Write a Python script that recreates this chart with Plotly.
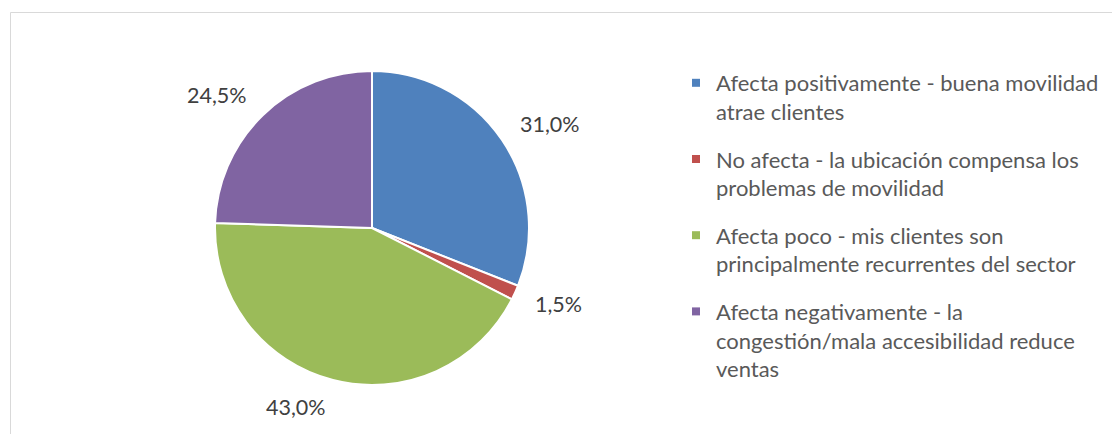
import numpy as np
import plotly.graph_objects as go

categories = [
    "Afecta positivamente - buena movilidad<br>atrae clientes",
    "No afecta - la ubicación compensa los<br>problemas de movilidad",
    "Afecta poco - mis clientes son<br>principalmente recurrentes del sector",
    "Afecta negativamente - la<br>congestión/mala accesibilidad reduce<br>ventas",
]
values = [31.0, 1.5, 43.0, 24.5]
label_texts = ["31,0%", "1,5%", "43,0%", "24,5%"]
colors = ["#4F81BD", "#C0504D", "#9BBB59", "#8064A2"]

W, H = 1112, 434
cx, cy, R = 372, 228, 157
FONT = "Lato, Open Sans, sans-serif"

fig = go.Figure()
fig.add_trace(go.Pie(
    labels=categories,
    values=values,
    sort=False,
    direction="clockwise",
    rotation=0,
    marker=dict(colors=colors, line=dict(color="white", width=2)),
    textinfo="none",
    hoverinfo="label+percent",
    showlegend=False,
    domain=dict(x=[(cx - R) / W, (cx + R) / W], y=[1 - (cy + R) / H, 1 - (cy - R) / H]),
))

# legend entries (one per category, so groups can be spaced like the original)
for i, (cat, col) in enumerate(zip(categories, colors)):
    fig.add_trace(go.Scatter(
        x=[None], y=[None], mode="markers", name=cat,
        marker=dict(symbol="square", size=8, color=col),
        legendgroup=f"g{i}", showlegend=True, hoverinfo="skip",
    ))

# data labels placed just outside the slice mid-angles
vals = np.array(values)
cum = np.cumsum(vals) - vals / 2
ang = cum / vals.sum() * 2 * np.pi
dist = R + 20
annotations = []
for a, t in zip(ang, label_texts):
    s, c = np.sin(a), np.cos(a)
    px = cx + dist * s
    py = cy - dist * c
    annotations.append(dict(
        x=px / W, y=1 - py / H, xref="paper", yref="paper",
        text=t, showarrow=False,
        xanchor="left" if s >= 0 else "right",
        yanchor="middle", yshift=8 * c,
        font=dict(family=FONT, size=21.5, color="#404040"),
    ))

fig.update_layout(
    width=W, height=H,
    margin=dict(l=0, r=0, t=0, b=0),
    paper_bgcolor="white",
    plot_bgcolor="white",
    xaxis=dict(visible=False),
    yaxis=dict(visible=False),
    showlegend=True,
    legend=dict(
        x=676 / W, y=1 - 62 / H, xanchor="left", yanchor="top",
        valign="top", traceorder="grouped", tracegroupgap=16,
        font=dict(family=FONT, size=22, color="#595959"),
        bgcolor="rgba(0,0,0,0)",
    ),
    annotations=annotations,
    shapes=[dict(
        type="rect", xref="paper", yref="paper",
        x0=10.5 / W, x1=1.05, y0=-0.05, y1=1 - 12.5 / H,
        line=dict(color="#D9D9D9", width=1), fillcolor="rgba(0,0,0,0)", layer="below",
    )],
)

fig.write_html("out.html")
